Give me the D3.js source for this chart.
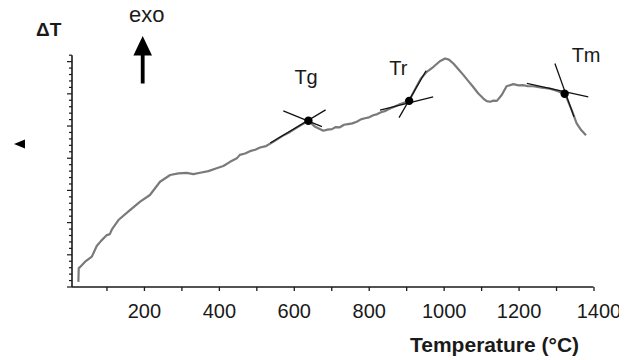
<!DOCTYPE html>
<html>
<head>
<meta charset="utf-8">
<script src="https://cdn.jsdelivr.net/npm/d3@7"></script>
<style>
  html, body { margin: 0; padding: 0; background: #fff; }
  svg { display: block; font-family: "Liberation Sans", Arial, sans-serif; }
</style>
</head>
<body>
<svg id="chart" width="634" height="360"></svg>
<script>
// ---- data ----
const temps = [25,26,29,43,61,74,85,101,109,115,132,158,190,216,243,270,292,314,332,350,372,394,412,430,448,456,470,483,497,510,526,545,569,590,617,639,657,679,690,702,712,723,734,745,756,768,779,790,801,812,823,833,845,857,870,884,896,908,918,928,940,955,973,990,1004,1014,1026,1040,1053,1066,1079,1092,1106,1115,1124,1133,1142,1155,1168,1186,1200,1212,1225,1239,1262,1284,1305,1324,1342,1355,1367,1380];
const deltaT = [2.2,8.2,8.5,10.9,13.1,17.7,19.8,22.4,22.8,25,28.9,32.5,36.8,39.7,45.4,48.3,49.0,49.2,48.7,49.3,50.0,51.2,52.2,54.0,55.5,57.0,57.6,58.6,59.2,60.2,60.8,62.6,65.1,66.9,69.6,71.7,69.1,67.4,67.9,68.1,69.0,68.9,70.0,70.3,70.6,71.3,72.3,72.8,73.2,74.1,74.6,75.4,76.0,77.0,77.9,78.9,79.6,80.3,83.5,86.6,90.1,92.8,95.0,97.4,98.6,98.1,96.4,93.8,91.4,88.8,86.3,83.6,81.3,80.2,79.9,80.4,80.3,82.8,86.6,87.5,87.0,87.1,86.6,86.6,86.0,85.6,84.5,83.2,76.3,70.6,67.7,65.5];

// transition points
const markerNames = ["Tg", "Tr", "Tm"];
const markerTemps = [639, 908, 1323];
const markerValues = [71.7, 80.3, 83.4];

// construction (tangent) lines: start/end in data units
const lineT1 = [572, 537, 830, 881, 1222, 1297];
const lineV1 = [76.0, 62.1, 76.3, 73.1, 87.8, 96.4];
const lineT2 = [675, 685, 972, 953, 1386, 1348];
const lineV2 = [69.2, 76.4, 82.0, 93.3, 82.0, 73.4];

const xTickValues = [100,200,300,400,500,600,700,800,900,1000,1100,1200,1300,1400];
const xTickLabels = ["200","400","600","800","1000","1200","1400"];
const yTickCount = 36;

// ---- drawing ----
const svg = d3.select("#chart");
const x = d3.scaleLinear().domain([8, 1400]).range([72, 593.5]);
const y = d3.scaleLinear().domain([0, 100]).range([287, 55.2]);
const ink = "#1a1a1a";

// clip for the right edge (reference image is cut at ~619px)
svg.append("defs").append("clipPath").attr("id", "cut")
  .append("rect").attr("x", 0).attr("y", 0).attr("width", 619).attr("height", 360);

const root = svg.append("g").attr("clip-path", "url(#cut)");

// X axis
const xAxis = d3.axisBottom(x)
  .tickValues(xTickValues)
  .tickSize(4)
  .tickSizeOuter(0)
  .tickFormat(d => xTickLabels.includes(String(d)) ? String(d) : "");
const gx = root.append("g").attr("transform", "translate(0,287)").call(xAxis);
gx.select(".domain").attr("stroke", ink).attr("stroke-width", 1.6)
  .attr("d", `M${x(8)},0H${x(1400)}`);
gx.selectAll(".tick line").attr("stroke", ink).attr("stroke-width", 1.3);
gx.selectAll(".tick text")
  .attr("fill", ink)
  .attr("font-size", 20)
  .attr("dy", 0)
  .attr("y", 31)
  .attr("dx", d => d === 1400 ? 5 : 0)
  .style("font-family", "'Liberation Sans', Arial, sans-serif");

// Y axis with dense minor ticks, larger every 5th
const yTicks = d3.range(yTickCount + 1).map(i => i * 100 / yTickCount);
const gy = root.append("g").attr("transform", `translate(${x(8)},0)`);
gy.append("line").attr("x1", 0).attr("x2", 0).attr("y1", y(100)).attr("y2", y(0))
  .attr("stroke", ink).attr("stroke-width", 1.6);
gy.selectAll("line.tk").data(yTicks).join("line").attr("class", "tk")
  .attr("x1", (d, i) => i % 5 === 0 ? -5 : -3).attr("x2", 0)
  .attr("y1", d => y(d)).attr("y2", d => y(d))
  .attr("stroke", ink).attr("stroke-width", 1.2);

// curve
const pts = temps.map((t, i) => [t, deltaT[i]]);
root.append("path")
  .datum(pts)
  .attr("fill", "none")
  .attr("stroke", "#7a7a7a")
  .attr("stroke-width", 2.2)
  .attr("stroke-linejoin", "round")
  .attr("d", d3.line().x(d => x(d[0])).y(d => y(d[1])));

// tangent lines
root.selectAll("line.tan").data(lineT1).join("line").attr("class", "tan")
  .attr("x1", (d, i) => x(lineT1[i])).attr("y1", (d, i) => y(lineV1[i]))
  .attr("x2", (d, i) => x(lineT2[i])).attr("y2", (d, i) => y(lineV2[i]))
  .attr("stroke", "#111").attr("stroke-width", 1.3);

// transition dots
root.selectAll("circle.mk").data(markerTemps).join("circle").attr("class", "mk")
  .attr("cx", (d) => x(d)).attr("cy", (d, i) => y(markerValues[i]))
  .attr("r", 4.2).attr("fill", "#000");

// transition labels
const labelDx = [-14, -20, 7];
const labelBaseline = [84, 75, 62];
root.selectAll("text.mk").data(markerNames).join("text").attr("class", "mk")
  .attr("x", (d, i) => x(markerTemps[i]) + labelDx[i])
  .attr("y", (d, i) => labelBaseline[i])
  .attr("font-size", 20).attr("fill", ink)
  .text(d => d);

// axis title
root.append("text").attr("x", 410).attr("y", 352)
  .attr("font-size", 21).attr("font-weight", "bold").attr("fill", ink)
  .text("Temperature (°C)");

// ΔT label
root.append("text").attr("x", 36).attr("y", 36)
  .attr("font-size", 19).attr("font-weight", "bold").attr("fill", ink)
  .text("ΔT");

// exo label and arrow
root.append("text").attr("x", 129).attr("y", 21.5)
  .attr("font-size", 22).attr("fill", ink)
  .text("exo");
root.append("path")
  .attr("d", "M142.7,36 L152,55.5 L144.6,55.5 L144.6,83.5 L140.8,83.5 L140.8,55.5 L133.4,55.5 Z")
  .attr("fill", "#000");

// small left-pointing triangle marker
root.append("path")
  .attr("d", "M14,144 L25,139.5 L25,148.5 Z")
  .attr("fill", "#000");
</script>
</body>
</html>
